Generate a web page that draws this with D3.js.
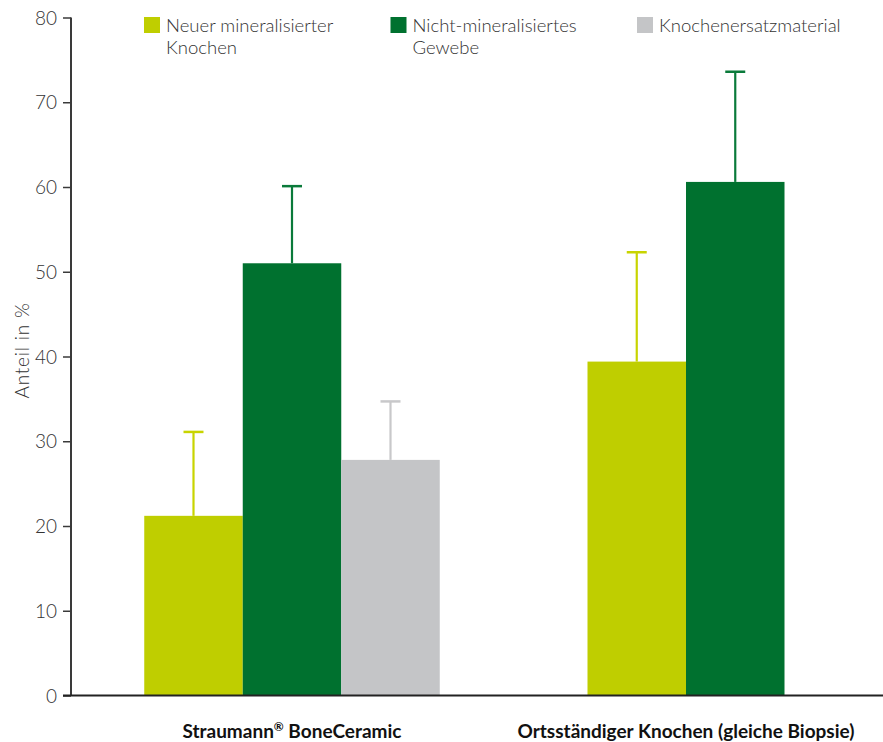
<!DOCTYPE html>
<html><head><meta charset="utf-8">
<script src="https://cdn.jsdelivr.net/npm/d3@7"></script>
<style>body{margin:0;background:#fff}svg{display:block}</style>
</head><body>
<svg id="c" width="883" height="742"></svg>
<script>
const categories = ["Straumann® BoneCeramic", "Ortsständiger Knochen (gleiche Biopsie)"];
const seriesNames = ["Neuer mineralisierter Knochen", "Nicht-mineralisiertes Gewebe", "Knochenersatzmaterial"];
const legendLines = [["Neuer mineralisierter", "Knochen"], ["Nicht-mineralisiertes", "Gewebe"], ["Knochenersatzmaterial"]];
const seriesColors = ["#bfce00", "#00712f", "#c4c5c7"];
const errorColors = ["#c8d400", "#0a7a3a", "#c8c8ca"];
// values per category, per series (null = not present)
const meanValues = [[21.2, 51.0, 27.8], [39.4, 60.6, null]];
const upperValues = [[31.1, 60.1, 34.7], [52.3, 73.6, null]];
const yTicks = [0, 10, 20, 30, 40, 50, 60, 70, 80];
const yLabel = "Anteil in %";

const svg = d3.select("#c");
const font = "Lato, 'DejaVu Sans', sans-serif";
const y = d3.scaleLinear().domain([0, 80]).range([695.5, 17.5]);
const x0 = d3.scaleBand().domain(categories).range([95, 883]);
const barW = x0.bandwidth() * 0.25;

// bars
categories.forEach((cat, ci) => {
  const present = seriesNames.map((s, si) => si).filter(si => meanValues[ci][si] != null);
  const inner = d3.scaleBand().domain(present).range([-present.length * barW / 2, present.length * barW / 2]);
  const cx = x0(cat) + x0.bandwidth() / 2;
  const g = svg.append("g");
  present.forEach(si => {
    const bx = cx + inner(si);
    g.append("rect").attr("x", bx).attr("y", y(meanValues[ci][si]))
      .attr("width", inner.bandwidth()).attr("height", y(0) - y(meanValues[ci][si]))
      .attr("fill", seriesColors[si]);
    const mx = bx + inner.bandwidth() / 2;
    g.append("line").attr("x1", mx).attr("x2", mx)
      .attr("y1", y(meanValues[ci][si])).attr("y2", y(upperValues[ci][si]))
      .attr("stroke", errorColors[si]).attr("stroke-width", 2.2);
    g.append("line").attr("x1", mx - 10).attr("x2", mx + 10)
      .attr("y1", y(upperValues[ci][si])).attr("y2", y(upperValues[ci][si]))
      .attr("stroke", errorColors[si]).attr("stroke-width", 2.5);
  });
});

// y axis
const yAxis = svg.append("g").attr("transform", "translate(71,0)")
  .call(d3.axisLeft(y).tickValues(yTicks).tickSize(8).tickPadding(6));
yAxis.select(".domain").attr("stroke", "#3a3a3a").attr("stroke-width", 2).attr("d", `M0,${y(80)}V${y(0)}`);
yAxis.selectAll(".tick line").attr("stroke", "#3a3a3a").attr("stroke-width", 1.5);
yAxis.selectAll(".tick text").attr("font-family", font).attr("font-weight", 300)
  .attr("font-size", 19).attr("fill", "#333").attr("dy", "0.35em");

// x axis line
svg.append("line").attr("x1", 63).attr("x2", 883).attr("y1", y(0)).attr("y2", y(0))
  .attr("stroke", "#222").attr("stroke-width", 2);

// category labels (® as superscript)
categories.forEach(cat => {
  const t = svg.append("text").attr("x", x0(cat) + x0.bandwidth() / 2).attr("y", 738)
    .attr("text-anchor", "middle").attr("font-family", font).attr("font-weight", 700)
    .attr("font-size", 19).attr("fill", "#111");
  const parts = cat.split("®");
  parts.forEach((p, k) => {
    if (k > 0) t.append("tspan").attr("font-size", 12).attr("baseline-shift", "super").text("®");
    t.append("tspan").text(p);
  });
});

// y label
svg.append("text").attr("transform", `translate(29,${y(40) - 6}) rotate(-90)`)
  .attr("text-anchor", "middle").attr("font-family", font).attr("font-weight", 300)
  .attr("font-size", 19).attr("letter-spacing", 0.8).attr("fill", "#333").text(yLabel);

// legend
const legX = d3.scalePoint().domain(seriesNames).range([144, 637]);
seriesNames.forEach((s, i) => {
  const lx = legX(s);
  svg.append("rect").attr("x", lx).attr("y", 17).attr("width", 16).attr("height", 16).attr("fill", seriesColors[i]);
  const t = svg.append("text").attr("x", lx + 22).attr("y", 32).attr("font-family", font)
    .attr("font-weight", 300).attr("font-size", 18.5).attr("fill", "#333");
  legendLines[i].forEach((ln, k) => t.append("tspan").attr("x", lx + 22).attr("dy", k ? 22 : 0).text(ln));
});
</script>
</body></html>
